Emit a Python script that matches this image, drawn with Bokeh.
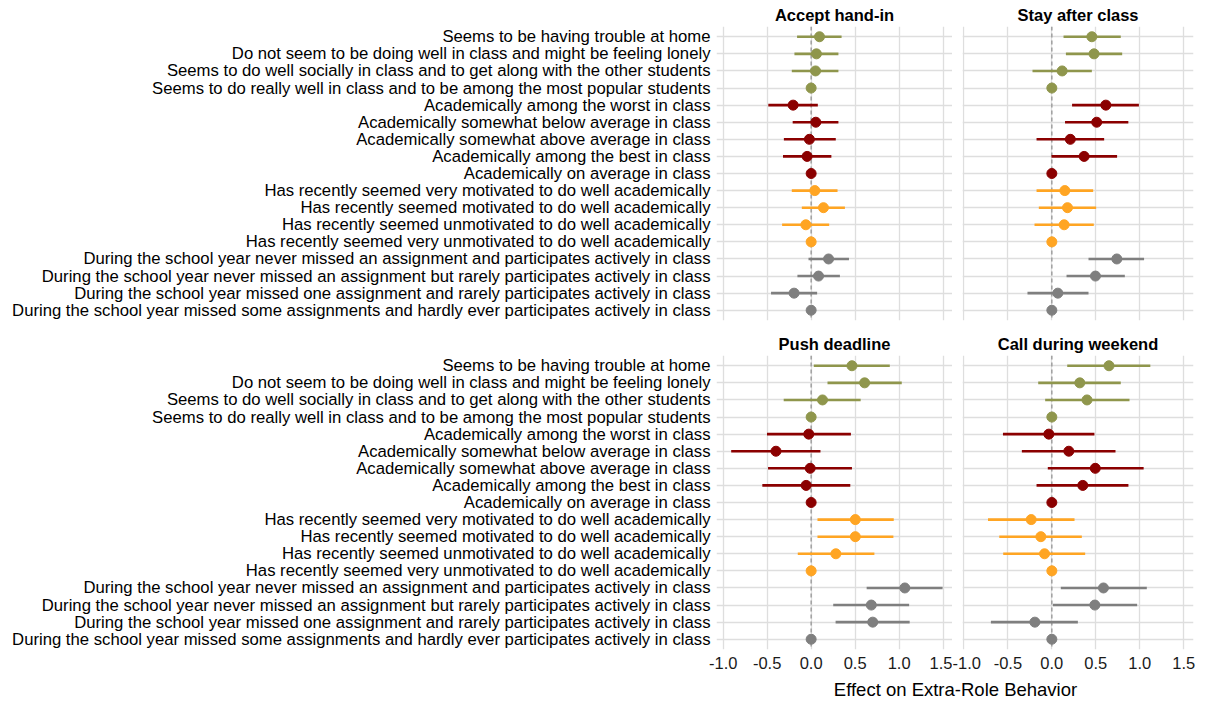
from bokeh.plotting import figure
from bokeh.layouts import column, row
from bokeh.models import FixedTicker, Span, ColumnDataSource, Label, Range1d, PrintfTickFormatter
from bokeh.embed import file_html
from bokeh.resources import INLINE

NaN = float("nan")

labels = [
    "Seems to be having trouble at home",
    "Do not seem to be doing well in class and might be feeling lonely",
    "Seems to do well socially in class and to get along with the other students",
    "Seems to do really well in class and to be among the most popular students",
    "Academically among the worst in class",
    "Academically somewhat below average in class",
    "Academically somewhat above average in class",
    "Academically among the best in class",
    "Academically on average in class",
    "Has recently seemed very motivated to do well academically",
    "Has recently seemed motivated to do well academically",
    "Has recently seemed unmotivated to do well academically",
    "Has recently seemed very unmotivated to do well academically",
    "During the school year never missed an assignment and participates actively in class",
    "During the school year never missed an assignment but rarely participates actively in class",
    "During the school year missed one assignment and rarely participates actively in class",
    "During the school year missed some assignments and hardly ever participates actively in class",
]
groups = ["social"] * 4 + ["academic"] * 5 + ["motivation"] * 4 + ["participation"] * 4
group_colors = {"social": "#8F964C", "academic": "#8B0000", "motivation": "#FFA523", "participation": "#7F7F7F"}

panel_titles = ["Accept hand-in", "Stay after class", "Push deadline", "Call during weekend"]

accept_est = [0.095, 0.06, 0.05, 0.0, -0.205, 0.053, -0.02, -0.046, 0.0, 0.042, 0.14, -0.06, 0.0, 0.198, 0.084, -0.194, 0.0]
accept_lo = [-0.16, -0.19, -0.22, NaN, -0.487, -0.21, -0.31, -0.32, NaN, -0.22, -0.106, -0.33, NaN, -0.03, -0.156, -0.456, NaN]
accept_hi = [0.346, 0.31, 0.31, NaN, 0.076, 0.31, 0.28, 0.23, NaN, 0.30, 0.384, 0.205, NaN, 0.43, 0.327, 0.068, NaN]

stay_est = [0.455, 0.48, 0.117, 0.0, 0.614, 0.51, 0.21, 0.367, 0.0, 0.148, 0.178, 0.14, 0.0, 0.739, 0.496, 0.068, 0.0]
stay_lo = [0.133, 0.16, -0.22, NaN, 0.23, 0.15, -0.174, -0.004, NaN, -0.174, -0.148, -0.197, NaN, 0.417, 0.167, -0.277, NaN]
stay_hi = [0.784, 0.80, 0.455, NaN, 0.99, 0.87, 0.595, 0.742, NaN, 0.47, 0.504, 0.477, NaN, 1.049, 0.83, 0.417, NaN]

push_est = [0.464, 0.608, 0.129, 0.0, -0.027, -0.40, -0.011, -0.057, 0.0, 0.502, 0.502, 0.281, 0.0, 1.065, 0.684, 0.70, 0.0]
push_lo = [0.03, 0.186, -0.312, NaN, -0.502, -0.909, -0.49, -0.555, NaN, 0.072, 0.072, -0.152, NaN, 0.631, 0.251, 0.278, NaN]
push_hi = [0.894, 1.03, 0.563, NaN, 0.452, 0.106, 0.464, 0.445, NaN, 0.939, 0.935, 0.719, NaN, 1.494, 1.114, 1.12, NaN]

call_est = [0.65, 0.318, 0.40, 0.0, -0.034, 0.193, 0.494, 0.352, 0.0, -0.235, -0.125, -0.083, 0.0, 0.587, 0.489, -0.193, 0.0]
call_lo = [0.175, -0.155, -0.076, NaN, -0.556, -0.341, -0.046, -0.174, NaN, -0.726, -0.598, -0.553, NaN, 0.102, 0.012, -0.693, NaN]
call_hi = [1.12, 0.784, 0.883, NaN, 0.484, 0.724, 1.044, 0.871, NaN, 0.258, 0.341, 0.379, NaN, 1.08, 0.97, 0.296, NaN]

x_ticks = [-1.0, -0.5, 0.0, 0.5, 1.0, 1.5]
x_axis_title = "Effect on Extra-Role Behavior"

FONT = "Liberation Sans"
GRID = "#DEDEDE"


def make_panel(title, est, lo, hi, left, bottom):
    rows = list(range(1, len(labels) + 1))
    src = ColumnDataSource(dict(
        y=rows, est=est, lo=lo, hi=hi,
        color=[group_colors[g] for g in groups],
    ))
    xr = Range1d(-1.076, 1.607) if left else Range1d(-1.016, 1.611)
    p = figure(
        frame_width=236 if left else 231,
        frame_height=294,
        x_range=xr,
        y_range=Range1d(17.6, 0.4),
        output_backend="svg",
        toolbar_location=None,
        min_border_left=716 if left else 10,
        min_border_right=0 if left else 14,
        min_border_top=0,
        min_border_bottom=0 if bottom else 9,
        title=title,
    )
    p.title.text_font = FONT
    p.title.text_font_size = "16.5px"
    p.title.text_font_style = "bold"
    p.title.align = "center"
    p.title.text_color = "black"
    p.title.standoff = 6
    p.outline_line_color = None
    p.background_fill_color = "white"
    p.border_fill_color = "white"

    p.xgrid.ticker = FixedTicker(ticks=x_ticks)
    p.ygrid.ticker = FixedTicker(ticks=rows)
    for g in (p.xgrid, p.ygrid):
        g.grid_line_color = GRID
        g.grid_line_width = 1.3
        g.minor_grid_line_color = None

    p.xaxis.ticker = FixedTicker(ticks=x_ticks)
    p.xaxis.formatter = PrintfTickFormatter(format="%.1f")
    p.xaxis.axis_line_color = None
    p.xaxis.major_tick_line_color = None
    p.xaxis.minor_tick_line_color = None
    p.xaxis.major_label_standoff = 1
    p.xaxis.major_label_text_font = FONT
    p.xaxis.major_label_text_font_size = "16.5px"
    p.xaxis.major_label_text_color = "#1A1A1A"
    p.xaxis.visible = bottom

    p.yaxis.ticker = FixedTicker(ticks=rows)
    p.yaxis.major_label_overrides = {i + 1: lab for i, lab in enumerate(labels)}
    p.yaxis.axis_line_color = None
    p.yaxis.major_tick_line_color = None
    p.yaxis.minor_tick_line_color = None
    p.yaxis.major_label_standoff = 0
    p.yaxis.major_label_text_font = FONT
    p.yaxis.major_label_text_font_size = "16.7px"
    p.yaxis.major_label_text_color = "black"
    p.yaxis.visible = left

    zero = Span(location=0, dimension="height", line_color="#9A9A9A",
                line_dash="4 3", line_width=1.4, level="underlay")
    p.add_layout(zero)

    p.segment(x0="lo", y0="y", x1="hi", y1="y", source=src,
              line_color="color", line_width=2.6)
    p.scatter(x="est", y="y", source=src, size=10,
              fill_color="color", line_color="color")
    return p


tl = make_panel(panel_titles[0], accept_est, accept_lo, accept_hi, True, False)
tr = make_panel(panel_titles[1], stay_est, stay_lo, stay_hi, False, False)
bl = make_panel(panel_titles[2], push_est, push_lo, push_hi, True, True)
br = make_panel(panel_titles[3], call_est, call_lo, call_hi, False, True)

cap = figure(width=1207, height=31, x_range=Range1d(0, 1207), y_range=Range1d(0, 31),
             output_backend="svg", toolbar_location=None, min_border=0, title=None)
cap.axis.visible = False
cap.grid.visible = False
cap.outline_line_color = None
cap.add_layout(Label(x=955, y=13, text=x_axis_title, text_align="center",
                     text_baseline="middle", text_font=FONT,
                     text_font_size="18.5px", text_color="black"))

layout = column(row(tl, tr), row(bl, br), cap)

open("out.html", "w").write(file_html(layout, INLINE))
